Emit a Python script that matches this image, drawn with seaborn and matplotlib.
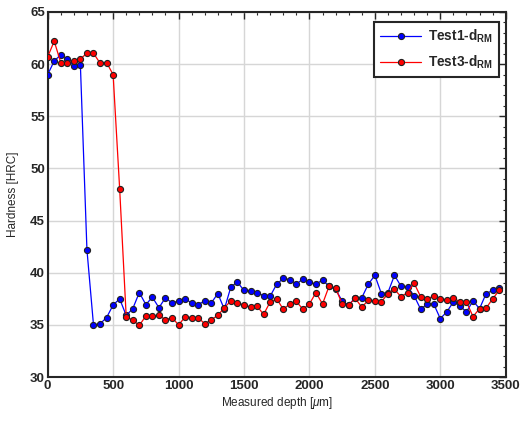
import numpy as np
import pandas as pd
import matplotlib
matplotlib.use("Agg")
import matplotlib.pyplot as plt
from matplotlib.ticker import MultipleLocator
import seaborn as sns

# Measurement positions (µm) and hardness profiles (HRC)
depth = list(range(0, 3500, 50))

test1 = [59.0, 60.3, 60.9, 60.5, 59.8, 59.9, 42.2, 35.0, 35.1, 35.7,
         36.9, 37.5, 35.9, 36.55, 38.1, 36.95, 37.65, 36.65, 37.6, 37.1,
         37.3, 37.5, 37.1, 36.95, 37.3, 37.1, 38.0, 36.5, 38.65, 39.1,
         38.3, 38.25, 38.1, 37.8, 37.75, 38.9, 39.45, 39.35, 38.9, 39.4,
         39.1, 38.9, 39.3, 38.7, 38.4, 37.3, 36.9, 37.6, 37.6, 38.9,
         39.75, 38.0, 38.1, 39.75, 38.7, 38.65, 37.8, 36.5, 37.0, 37.0,
         35.6, 36.25, 37.2, 36.8, 36.25, 37.3, 36.55, 38.0, 38.3, 38.5]

test3 = [60.7, 62.2, 60.15, 60.1, 60.3, 60.5, 61.05, 61.05, 60.1, 60.15,
         59.0, 48.05, 35.8, 35.45, 34.95, 35.85, 35.85, 35.9, 35.5, 35.7,
         35.0, 35.75, 35.7, 35.7, 35.1, 35.5, 35.9, 36.65, 37.3, 37.1,
         36.9, 36.7, 36.8, 36.0, 37.2, 37.5, 36.5, 37.0, 37.25, 36.5,
         37.0, 38.1, 37.0, 38.7, 38.55, 37.0, 36.9, 37.55, 36.7, 37.35,
         37.3, 37.2, 38.0, 38.4, 37.7, 38.1, 39.0, 37.7, 37.45, 37.8,
         37.5, 37.4, 37.6, 37.2, 37.2, 35.8, 36.55, 36.6, 37.5, 38.3]

series_names = ["Test1-d$_{\\mathbf{RM}}$", "Test3-d$_{\\mathbf{RM}}$"]
series_colors = ["#0000FF", "#FF0000"]

sns.set_theme(style="white")
plt.rcParams["font.family"] = ["Liberation Sans", "DejaVu Sans"]
plt.rcParams["mathtext.fontset"] = "custom"
plt.rcParams["mathtext.rm"] = "Liberation Sans"
plt.rcParams["mathtext.it"] = "Liberation Sans:italic"
plt.rcParams["mathtext.bf"] = "Liberation Sans:bold"

fig = plt.figure(figsize=(5.28, 4.24), dpi=100)
ax = fig.add_axes([0.0903, 0.1108, 0.8675, 0.8609])

df = pd.DataFrame({
    "depth": depth * 2,
    "hardness": test1 + test3,
    "series": [series_names[0]] * len(test1) + [series_names[1]] * len(test3),
})

for name, color in zip(series_names, series_colors):
    sub = df[df["series"] == name]
    sns.lineplot(data=sub, x="depth", y="hardness", ax=ax, color=color,
                 linewidth=0.9, marker="o", markersize=4.4,
                 markerfacecolor=color, markeredgecolor="#202020",
                 markeredgewidth=0.8, label=name, zorder=3)

ax.set_xlim(0, 3500)
ax.set_ylim(30, 65)
ax.xaxis.set_major_locator(MultipleLocator(500))
ax.xaxis.set_minor_locator(MultipleLocator(100))
ax.yaxis.set_major_locator(MultipleLocator(5))
ax.yaxis.set_minor_locator(MultipleLocator(1))

ax.grid(True, which="major", color="#d6d6d6", linewidth=1.0)
ax.set_axisbelow(True)

text_color = "#262626"
ax.tick_params(which="both", direction="in", top=True, right=True,
               colors=text_color)
ax.tick_params(which="major", length=5, width=1.0, labelsize=9.5, pad=2)
ax.tick_params(which="minor", length=2.5, width=0.8)
for lab in ax.get_xticklabels() + ax.get_yticklabels():
    lab.set_fontweight("bold")

for sp in ax.spines.values():
    sp.set_color("#262626")
    sp.set_linewidth(1.5)

ax.set_xlabel("Measured depth [$\\mu$m]", fontsize=8.5, color=text_color,
              labelpad=2)
ax.set_ylabel("Hardness [HRC]", fontsize=8.5, color=text_color, labelpad=8)

leg = ax.legend(loc="upper right", bbox_to_anchor=(0.985, 0.973),
                borderaxespad=0.0, frameon=True, fancybox=False, framealpha=1,
                edgecolor="#262626", fontsize=9.8, borderpad=0.45,
                handlelength=3.0, labelspacing=0.6, handletextpad=0.5)
leg.get_frame().set_linewidth(1.5)
for t in leg.get_texts():
    t.set_fontweight("bold")

fig.savefig("out.png", dpi=100)
